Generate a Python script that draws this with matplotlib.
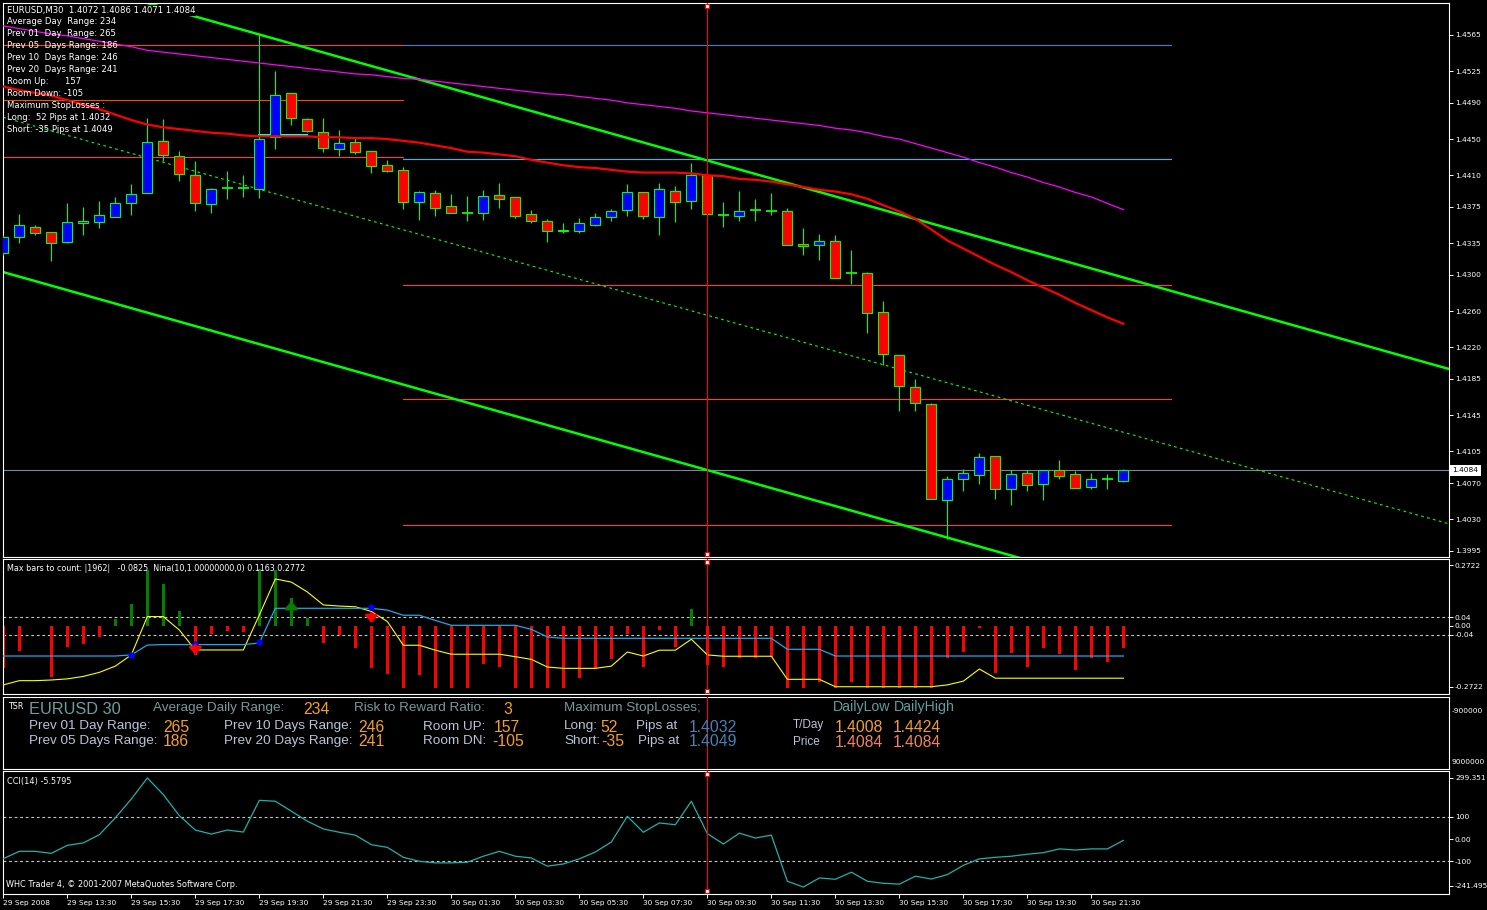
import matplotlib
matplotlib.use('Agg')
import matplotlib.pyplot as plt
import matplotlib.transforms as mtrans

plt.rcParams['font.family'] = ['DejaVu Sans']

# ---------------- data ----------------
bar_idx = list(range(71))
opens = [1.4324,1.4342,1.4353,1.4347,1.4336,1.4357,1.4358,1.4364,1.4379,1.4390,
         1.4448,1.4431,1.4410,1.4378,1.4396,1.4396,1.4395,1.4452,1.4501,1.4472,
         1.4458,1.4439,1.4447,1.4437,1.4421,1.4416,1.4380,1.4390,1.4376,1.4368,
         1.4368,1.4388,1.4386,1.4367,1.4359,1.4350,1.4349,1.4355,1.4364,1.4372,
         1.4392,1.4364,1.4393,1.4382,1.4410,1.4366,1.4365,1.4372,1.4371,1.4370,
         1.4334,1.4333,1.4337,1.4302,1.4302,1.4259,1.4212,1.4176,1.4157,1.4051,
         1.4074,1.4079,1.4100,1.4064,1.4081,1.4069,1.4084,1.4080,1.4066,1.4074,
         1.4072]
highs = [1.4344,1.4367,1.4355,1.4347,1.4379,1.4375,1.4382,1.4386,1.4400,1.4473,
         1.4472,1.4437,1.4426,1.4396,1.4415,1.4410,1.4567,1.4525,1.4501,1.4473,
         1.4473,1.4460,1.4452,1.4437,1.4427,1.4419,1.4393,1.4394,1.4389,1.4387,
         1.4394,1.4401,1.4386,1.4372,1.4362,1.4357,1.4363,1.4368,1.4373,1.4400,
         1.4392,1.4401,1.4398,1.4424,1.4410,1.4381,1.4393,1.4384,1.4390,1.4374,
         1.4352,1.4345,1.4344,1.4328,1.4303,1.4271,1.4212,1.4185,1.4158,1.4078,
         1.4086,1.4103,1.4100,1.4084,1.4084,1.4084,1.4096,1.4083,1.4081,1.4080,
         1.4086]
lows = [1.4322,1.4335,1.4344,1.4315,1.4335,1.4344,1.4352,1.4364,1.4366,1.4390,
        1.4426,1.4404,1.4370,1.4368,1.4384,1.4386,1.4385,1.4439,1.4466,1.4458,
        1.4436,1.4431,1.4434,1.4413,1.4414,1.4373,1.4361,1.4365,1.4368,1.4360,
        1.4361,1.4374,1.4363,1.4357,1.4336,1.4346,1.4346,1.4354,1.4360,1.4365,
        1.4362,1.4344,1.4358,1.4373,1.4351,1.4353,1.4359,1.4360,1.4366,1.4333,
        1.4322,1.4316,1.4297,1.4290,1.4236,1.4200,1.4150,1.4150,1.4052,1.4008,
        1.4061,1.4069,1.4052,1.4046,1.4061,1.4051,1.4074,1.4065,1.4063,1.4064,
        1.4071]
closes = [1.4342,1.4355,1.4346,1.4335,1.4358,1.4360,1.4366,1.4379,1.4389,1.4447,
          1.4432,1.4411,1.4379,1.4395,1.4396,1.4396,1.4450,1.4499,1.4473,1.4459,
          1.4440,1.4446,1.4436,1.4420,1.4415,1.4381,1.4391,1.4374,1.4368,1.4368,
          1.4387,1.4384,1.4365,1.4360,1.4349,1.4348,1.4357,1.4364,1.4371,1.4391,
          1.4365,1.4395,1.4381,1.4410,1.4367,1.4366,1.4371,1.4372,1.4371,1.4333,
          1.4332,1.4337,1.4297,1.4302,1.4258,1.4213,1.4177,1.4158,1.4052,1.4075,
          1.4081,1.4099,1.4063,1.4080,1.4068,1.4084,1.4078,1.4065,1.4075,1.4074,
          1.4084]
ma_red = [1.4508,1.4504,1.4501,1.4498,1.4493,1.4488,1.4483,1.4477,1.4471,1.4466,
          1.4463,1.4461,1.4459,1.4457,1.4456,1.4454,1.4453,1.4453,1.4453,1.4453,
          1.4452,1.4452,1.4451,1.4451,1.4450,1.4448,1.4446,1.4443,1.4440,1.4436,
          1.4435,1.4433,1.4431,1.4427,1.4424,1.4421,1.4419,1.4418,1.4416,1.4414,
          1.4413,1.4413,1.4413,1.4412,1.4410,1.4409,1.4406,1.4405,1.4403,1.4400,
          1.4397,1.4394,1.4392,1.4389,1.4384,1.4377,1.4370,1.4362,1.4350,1.4338,
          1.4329,1.4320,1.4311,1.4303,1.4294,1.4286,1.4278,1.4269,1.4261,1.4253,
          1.4246]
ma_magenta = [1.4575,1.4572,1.4569,1.4566,1.4564,1.4561,1.4558,1.4555,1.4552,1.4548,
              1.4546,1.4544,1.4542,1.4540,1.4538,1.4536,1.4534,1.4532,1.4530,1.4528,
              1.4526,1.4524,1.4522,1.4521,1.4519,1.4517,1.4516,1.4514,1.4512,1.4510,
              1.4508,1.4506,1.4504,1.4502,1.4500,1.4499,1.4497,1.4495,1.4493,1.4490,
              1.4488,1.4486,1.4484,1.4481,1.4479,1.4477,1.4475,1.4473,1.4471,1.4469,
              1.4467,1.4465,1.4462,1.4460,1.4457,1.4453,1.4450,1.4445,1.4440,1.4435,
              1.4430,1.4424,1.4419,1.4413,1.4408,1.4402,1.4397,1.4391,1.4386,1.4379,
              1.4372]
# regression channel (two end points each)
chan_x = [0, 90.35]
chan_upper = [1.4645, 1.4196]
chan_mid = [1.4474, 1.4025]
chan_lower = [1.4303, 1.3854]
# horizontal levels
left_levels = [1.4554, 1.4493, 1.4430]
left_span = [-1, 25]
right_levels = [1.4554, 1.4428, 1.4289, 1.4163, 1.4024]
right_colors = ['#2A84DC', '#22C4E6', '#FF4500', '#FF4500', '#FF4500']
right_span = [25, 73]
cyan_seg_x = [16, 19]
cyan_seg_price = 1.4455
bid_price = 1.4084
vline_idx = 44
price_ticks = [1.4565, 1.4525, 1.4490, 1.4450, 1.4410, 1.4375, 1.4335, 1.4300,
               1.4260, 1.4220, 1.4185, 1.4145, 1.4105, 1.4070, 1.4030, 1.3995]

hist = [-0.186,-0.110,0.0,-0.226,-0.092,-0.080,-0.048,0.031,0.098,0.250,
        0.188,0.067,-0.129,-0.036,-0.022,-0.028,0.254,0.250,0.125,0.036,
        -0.076,-0.040,-0.097,-0.188,-0.214,-0.275,-0.220,-0.275,-0.275,-0.275,
        -0.168,-0.182,-0.275,-0.275,-0.275,-0.275,-0.231,-0.186,-0.146,-0.034,
        -0.182,-0.017,-0.092,0.075,-0.174,-0.182,-0.144,-0.144,-0.137,-0.275,
        -0.275,-0.249,-0.275,-0.249,-0.275,-0.275,-0.275,-0.275,-0.275,-0.142,
        -0.115,-0.010,-0.208,-0.119,-0.182,-0.097,-0.124,-0.198,-0.142,-0.159,
        -0.097]
nina_yellow = [-0.263,-0.244,-0.244,-0.241,-0.236,-0.225,-0.207,-0.179,-0.129,0.042,
               0.042,-0.018,-0.107,-0.107,-0.107,-0.107,0.049,0.210,0.196,0.152,
               0.094,0.089,0.086,0.065,0.020,-0.086,-0.086,-0.108,-0.126,-0.126,
               -0.126,-0.126,-0.137,-0.149,-0.183,-0.189,-0.189,-0.189,-0.179,-0.116,
               -0.134,-0.108,-0.108,-0.059,-0.129,-0.135,-0.135,-0.135,-0.135,-0.238,
               -0.238,-0.238,-0.271,-0.271,-0.271,-0.271,-0.271,-0.271,-0.271,-0.263,
               -0.246,-0.192,-0.233,-0.233,-0.233,-0.233,-0.233,-0.233,-0.233,-0.233,
               -0.233]
nina_blue = [-0.134,-0.134,-0.134,-0.134,-0.134,-0.134,-0.134,-0.134,-0.129,-0.085,
             -0.083,-0.083,-0.083,-0.083,-0.083,-0.083,-0.076,0.079,0.079,0.079,
             0.079,0.079,0.079,0.079,0.071,0.048,0.048,0.025,0.003,0.003,
             0.003,0.003,0.003,-0.015,-0.049,-0.055,-0.055,-0.055,-0.055,-0.055,
             -0.055,-0.055,-0.055,-0.055,-0.055,-0.055,-0.055,-0.055,-0.055,-0.104,
             -0.104,-0.104,-0.134,-0.134,-0.134,-0.134,-0.134,-0.134,-0.134,-0.134,
             -0.134,-0.134,-0.134,-0.134,-0.134,-0.134,-0.134,-0.134,-0.134,-0.134,
             -0.134]
dot_idx = [8, 12, 16, 23]
dot_val = [-0.129, -0.080, -0.070, 0.086]
down_arrow_idx = [12, 23]
down_arrow_tail = [-0.085, 0.057]
down_arrow_tip = [-0.128, 0.014]
up_arrow_idx = [18]
up_arrow_tail = [0.057]
up_arrow_tip = [0.110]
nina_ticks = [0.2722, 0.04, 0.0, -0.04, -0.2722]
nina_tick_labels = ['0.2722', '0.04', '0.00', '-0.04', '-0.2722']

cci = [-88,-55,-55,-64,-28,-17,20,96,181,276,
       201,106,41,23,41,32,175,171,126,81,
       46,31,18,-25,-37,-82,-100,-107,-107,-104,
       -77,-55,-77,-85,-122,-112,-89,-58,-13,103,
       31,73,65,171,25,-22,27,5,18,-190,
       -216,-175,-181,-149,-190,-199,-203,-167,-180,-160,
       -118,-89,-82,-77,-68,-61,-44,-49,-44,-44,
       -5.58]
cci_tick_pos = [276, 100, 0, -100, -211]
cci_tick_labels = ['299.351', '100', '0.00', '-100', '-241.495']

time_tick_idx = [0, 4, 8, 12, 16, 20, 24, 28, 32, 36, 40, 44, 48, 52, 56, 60, 64, 68]
time_tick_labels = ['29 Sep 2008', '29 Sep 13:30', '29 Sep 15:30', '29 Sep 17:30',
                    '29 Sep 19:30', '29 Sep 21:30', '29 Sep 23:30', '30 Sep 01:30',
                    '30 Sep 03:30', '30 Sep 05:30', '30 Sep 07:30', '30 Sep 09:30',
                    '30 Sep 11:30', '30 Sep 13:30', '30 Sep 15:30', '30 Sep 17:30',
                    '30 Sep 19:30', '30 Sep 21:30']

header_lines = ['EURUSD,M30  1.4072 1.4086 1.4071 1.4084',
                'Average Day  Range: 234',
                'Prev 01  Day  Range: 265',
                'Prev 05  Days Range: 186',
                'Prev 10  Days Range: 246',
                'Prev 20  Days Range: 241',
                'Room Up:      157',
                'Room Down: -105',
                'Maximum StopLosses :',
                'Long:  52 Pips at 1.4032',
                'Short: -35 Pips at 1.4049']

# ---------------- layout ----------------
W, H = 1487, 910
XLIM = (-0.02, 90.35)
LIME = '#00FF00'
TICKFS = 5.4
fig = plt.figure(figsize=(W / 100, H / 100), dpi=100, facecolor='black')


def axes_px(x0, y0, x1, y1):
    ax = fig.add_axes([x0 / W, 1 - y1 / H, (x1 - x0) / W, (y1 - y0) / H])
    ax.set_facecolor('black')
    for s in ax.spines.values():
        s.set_color('white')
        s.set_linewidth(0.8)
    ax.set_xlim(XLIM)
    ax.tick_params(axis='x', bottom=False, labelbottom=False)
    ax.tick_params(axis='y', left=False, labelleft=False)
    return ax


def ftext(x, y, s, **kw):
    kw.setdefault('va', 'center')
    kw.setdefault('ha', 'left')
    return fig.text(x / W, 1 - y / H, s, **kw)


def right_ticks(ax, vals, labels):
    ax.yaxis.tick_right()
    ax.set_yticks(vals)
    ax.set_yticklabels(labels)
    ax.tick_params(axis='y', colors='white', length=3, width=0.7, pad=1.3,
                   labelsize=TICKFS, right=True, labelright=True, left=False, labelleft=False)


main = axes_px(3, 3, 1449, 556.5)
nina = axes_px(3, 558.5, 1449, 693.5)
tsr = axes_px(3, 696.5, 1449, 768.5)
cciax = axes_px(3, 771.3, 1449, 893.5)

# ---------------- main chart ----------------
right_ticks(main, price_ticks, [f'{v:.4f}' for v in price_ticks])
main.set_ylim(1.39889, 1.46003)

for lv in left_levels:
    main.plot(left_span, [lv, lv], color='#FF4500', lw=0.8, zorder=1)
for lv, c in zip(right_levels, right_colors):
    main.plot(right_span, [lv, lv], color=c, lw=0.8, zorder=1)
main.axhline(bid_price, color='#778899', lw=0.8, zorder=1)

main.plot(chan_x, chan_upper, color=LIME, lw=1.8, zorder=2)
main.plot(chan_x, chan_lower, color=LIME, lw=1.8, zorder=2)
main.plot(chan_x, chan_mid, color=LIME, lw=0.8, ls=(0, (2.5, 3)), zorder=2)

main.plot(cyan_seg_x, [cyan_seg_price, cyan_seg_price], color='#00FFFF', lw=1.5, zorder=2)

# candles
main.vlines(bar_idx, lows, highs, color=LIME, lw=0.8, zorder=3)
for i, o, c in zip(bar_idx, opens, closes):
    if abs(c - o) < 0.00012:
        main.hlines(o, i - 0.33, i + 0.33, color=LIME, lw=1.3, zorder=4)
    else:
        main.bar(i, c - o, bottom=o, width=0.63,
                 color='#0000FF' if c > o else '#FF0000',
                 edgecolor=LIME, linewidth=0.8, zorder=4)

main.plot(bar_idx, ma_magenta, color='#FF00FF', lw=0.9, zorder=5)
main.plot(bar_idx, ma_red, color='#FF0000', lw=1.6, zorder=5)

# bid label box
bt = mtrans.blended_transform_factory(main.transAxes, main.transData)
main.text(1.0 + 3.5 / 1446, bid_price, '1.4084', transform=bt, color='black', fontsize=TICKFS,
          va='center', ha='left', clip_on=False, zorder=20,
          bbox=dict(boxstyle='square,pad=0.3', fc='white', ec='none'))

header_y = [10.5, 21, 33, 45, 57, 69, 81, 93, 105, 117, 129]
for k, (line, yk) in enumerate(zip(header_lines, header_y)):
    kw = {}
    if k == 0:
        kw['bbox'] = dict(facecolor='black', edgecolor='none', pad=0.6)
    ftext(7, yk, line, color='white', fontsize=6.1, zorder=30, **kw)

# ---------------- Nina panel ----------------
right_ticks(nina, nina_ticks, nina_tick_labels)
nina.set_ylim(-0.3013, 0.3013)
for lv in (0.04, -0.04):
    nina.axhline(lv, color='#C8C8C8', lw=0.8, ls=(0, (2.5, 2.5)), zorder=1)
nina.bar(bar_idx, hist, width=0.19,
         color=['#008000' if v > 0 else '#FF0000' for v in hist], zorder=2)
nina.plot(bar_idx, nina_yellow, color='#FFFF00', lw=0.8, zorder=3)
nina.plot(bar_idx, nina_blue, color='#1EA8E8', lw=0.9, zorder=3)
nina.plot(dot_idx, dot_val, 'o', color='#0000FF', ms=3.6, zorder=5)
for i, t0, t1 in zip(down_arrow_idx, down_arrow_tail, down_arrow_tip):
    nina.annotate('', xy=(i, t1), xytext=(i, t0),
                  arrowprops=dict(arrowstyle='-|>,head_width=0.4,head_length=0.45',
                                  color='#FF0000', lw=2.0, mutation_scale=9,
                                  shrinkA=0, shrinkB=0), zorder=6)
for i, t0, t1 in zip(up_arrow_idx, up_arrow_tail, up_arrow_tip):
    nina.annotate('', xy=(i, t1), xytext=(i, t0),
                  arrowprops=dict(arrowstyle='-|>,head_width=0.4,head_length=0.45',
                                  color='#008000', lw=2.0, mutation_scale=9,
                                  shrinkA=0, shrinkB=0), zorder=6)
ftext(7, 568.5, 'Max bars to count: |1962|   -0.0825  Nina(10,1.00000000,0) 0.1163 0.2772',
      color='white', fontsize=5.8, zorder=30)

# ---------------- TSR panel ----------------
tsr.set_ylim(0, 1)
ORANGE = '#F5A02A'
LIGHT = '#B8C4D8'
GREYT = '#7A9898'
TEAL = '#5F9EA0'
STEEL = '#4682B4'
CORAL = '#F4845A'
LS = 'Liberation Sans'
ftext(8, 706.5, 'TSR', color='white', fontsize=5.8)
ftext(28.5, 709, 'EURUSD 30', color='#6E9E9E', fontsize=11.8, family=LS)
tsr_items = [
    (153, 708, 'Average Daily Range:', GREYT, 9.7),
    (303, 709.5, '234', ORANGE, 11.3),
    (353.5, 708, 'Risk to Reward Ratio:', GREYT, 9.7),
    (503.5, 710, '3', ORANGE, 11.3),
    (564, 708, 'Maximum StopLosses;', GREYT, 9.7),
    (28.5, 726.5, 'Prev 01 Day Range:', LIGHT, 9.7),
    (163, 727.5, '265', ORANGE, 11.3),
    (28.5, 741, 'Prev 05 Days Range:', LIGHT, 9.7),
    (163, 742, '186', ORANGE, 11.3),
    (223.5, 726.5, 'Prev 10 Days Range:', LIGHT, 9.7),
    (358, 727.5, '246', ORANGE, 11.3),
    (223.5, 741, 'Prev 20 Days Range:', LIGHT, 9.7),
    (358, 742, '241', ORANGE, 11.3),
    (423, 726.5, 'Room UP:', LIGHT, 9.7),
    (493.5, 727.5, '157', ORANGE, 11.3),
    (423, 741, 'Room DN:', LIGHT, 9.7),
    (492, 742, '-105', ORANGE, 11.3),
    (564, 726.5, 'Long:', LIGHT, 9.7),
    (600, 727.5, '52', ORANGE, 11.3),
    (636, 726.5, 'Pips at', LIGHT, 9.7),
    (689, 727.5, '1.4032', STEEL, 11.3),
    (564, 741, 'Short:', LIGHT, 9.7),
    (601, 742, '-35', ORANGE, 11.3),
    (638, 741, 'Pips at', LIGHT, 9.7),
    (689, 742, '1.4049', STEEL, 11.3),
    (833, 707, 'DailyLow', TEAL, 10.2),
    (894, 707, 'DailyHigh', TEAL, 10.2),
    (793, 725, 'T/Day', LIGHT, 8.5),
    (834.5, 727.5, '1.4008', ORANGE, 11.3),
    (893, 727.5, '1.4424', ORANGE, 11.3),
    (793, 742, 'Price', LIGHT, 8.5),
    (834.5, 742.5, '1.4084', CORAL, 11.3),
    (893, 742.5, '1.4084', CORAL, 11.3),
]
for x, y, s, c, fs in tsr_items:
    ftext(x, y, s, color=c, fontsize=fs, family=LS)
ftext(1452, 711, '-900000', color='white', fontsize=TICKFS)
ftext(1452, 762, '9000000', color='white', fontsize=TICKFS)

# ---------------- CCI panel ----------------
right_ticks(cciax, cci_tick_pos, cci_tick_labels)
cciax.set_ylim(-245.2, 306.0)
for lv in (100, -100):
    cciax.axhline(lv, color='#C8C8C8', lw=0.8, ls=(0, (2.5, 2.5)), zorder=1)
cciax.plot(bar_idx, cci, color='#20B2AA', lw=0.9, zorder=3)
ftext(7, 781.5, 'CCI(14) -5.5795', color='white', fontsize=5.9, zorder=30)
ftext(6, 884.5, 'WHC Trader 4, \u00a9 2001-2007 MetaQuotes Software Corp.',
      color='white', fontsize=5.9, zorder=30)

cciax.set_xticks(time_tick_idx)
cciax.set_xticklabels(time_tick_labels)
cciax.tick_params(axis='x', bottom=True, labelbottom=True, colors='white',
                  length=3, width=0.7, pad=2.0, labelsize=5.3)
for lab in cciax.get_xticklabels():
    lab.set_horizontalalignment('left')

# ---------------- selected vertical line ----------------
for ax, hpx in ((main, 553.5), (nina, 135.0), (tsr, 72.0), (cciax, 122.2)):
    ax.axvline(vline_idx, color='#FF0000', lw=0.8, zorder=8)
    if ax is not tsr:
        tr = ax.get_xaxis_transform()
        ax.plot([vline_idx, vline_idx], [1 - 3 / hpx, 3 / hpx], transform=tr, ls='none',
                marker='s', ms=3.2, mfc='white', mec='#FF0000', mew=0.8,
                clip_on=False, zorder=9)

fig.savefig('out.png', dpi=100, facecolor='black')
